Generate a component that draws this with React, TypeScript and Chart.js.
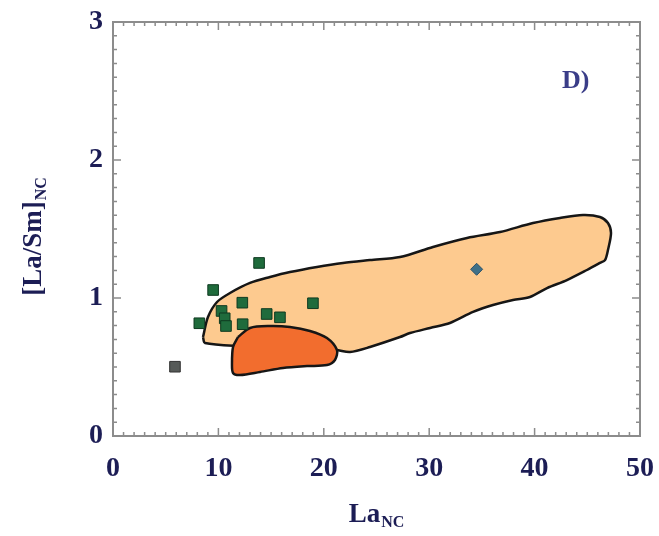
import { useEffect, useRef } from 'react';
import { Chart, registerables } from 'chart.js';

Chart.register(...registerables);

// Light-orange field outline (La_NC, [La/Sm]_NC)
const LIGHT_X = [8.54, 9.01, 9.87, 11.1, 13.0, 14.9, 16.79, 19.35, 21.82, 24.38, 27.23, 30.36, 33.59, 36.72, 39.85, 42.41, 44.59, 46.2, 46.96, 47.25, 46.96, 46.68, 46.2, 44.97, 43.07, 41.18, 39.56, 37.95, 36.05, 34.16, 31.97, 30.08, 28.18, 27.23, 24.38, 22.49, 21.16, 12.05, 8.73, 8.54];
const LIGHT_Y = [0.717, 0.862, 0.971, 1.036, 1.109, 1.152, 1.188, 1.225, 1.254, 1.275, 1.297, 1.37, 1.435, 1.478, 1.543, 1.58, 1.601, 1.587, 1.543, 1.471, 1.348, 1.275, 1.254, 1.203, 1.13, 1.072, 1.007, 0.986, 0.949, 0.899, 0.819, 0.783, 0.746, 0.717, 0.645, 0.609, 0.623, 0.652, 0.674, 0.717];

// Dark-orange field outline
const DARK_X = [11.86, 13.0, 14.9, 16.79, 18.69, 20.3, 21.25, 21.06, 20.3, 18.41, 16.13, 13.95, 12.05, 11.39, 11.29, 11.39, 11.86];
const DARK_Y = [0.717, 0.783, 0.797, 0.79, 0.761, 0.71, 0.623, 0.551, 0.514, 0.507, 0.493, 0.464, 0.442, 0.457, 0.529, 0.645, 0.717];

// Green squares
const GREEN_X = [13.86, 9.5, 12.27, 18.97, 10.3, 14.58, 15.84, 8.19, 10.6, 10.72, 12.3];
const GREEN_Y = [1.254, 1.058, 0.966, 0.962, 0.906, 0.884, 0.86, 0.817, 0.853, 0.797, 0.81];

// Grey square
const GREY_X = [5.88];
const GREY_Y = [0.502];

// Diamond
const DIAMOND_X = [34.5];
const DIAMOND_Y = [1.208];

const X_TICKS = [0, 10, 20, 30, 40, 50];
const Y_TICKS = [0, 1, 2, 3];
const PANEL_LABEL = 'D)';
const PANEL_POS = { x: 43.9, y: 2.57 };
const X_TITLE = { main: 'La', sub: 'NC' };
const Y_TITLE = { main: '[La/Sm]', sub: 'NC' };

const TEXT = '#1c1d55';
const FONT = '"Liberation Serif", "Times New Roman", serif';

const toPts = (xs: number[], ys: number[]) => xs.map((x, i) => ({ x, y: ys[i] }));

const decor = {
  id: 'decor',
  afterDraw(chart: any) {
    const ctx = chart.ctx as CanvasRenderingContext2D;
    const { left, right, top, bottom } = chart.chartArea;
    const xs = chart.scales.x;
    const ys = chart.scales.y;
    ctx.save();
    // frame
    ctx.strokeStyle = '#8c8c8c';
    ctx.lineWidth = 2;
    ctx.strokeRect(left, top, right - left, bottom - top);
    // ticks
    ctx.lineWidth = 1.5;
    ctx.beginPath();
    for (let v = 0; v <= 50; v += 1) {
      const p = xs.getPixelForValue(v);
      const len = v % 10 === 0 ? 8 : 4;
      ctx.moveTo(p, bottom);
      ctx.lineTo(p, bottom - len);
      ctx.moveTo(p, top);
      ctx.lineTo(p, top + len);
    }
    for (let i = 0; i <= 30; i++) {
      const p = ys.getPixelForValue(i / 10);
      const len = i % 10 === 0 ? 8 : 4;
      ctx.moveTo(left, p);
      ctx.lineTo(left + len, p);
      ctx.moveTo(right, p);
      ctx.lineTo(right - len, p);
    }
    ctx.stroke();

    // panel label
    ctx.fillStyle = '#3a3d88';
    ctx.font = `bold 26px ${FONT}`;
    ctx.textAlign = 'center';
    ctx.textBaseline = 'middle';
    ctx.fillText(PANEL_LABEL, xs.getPixelForValue(PANEL_POS.x), ys.getPixelForValue(PANEL_POS.y));

    // axis titles with subscripts
    const drawSub = (main: string, sub: string, cx: number, baseY: number) => {
      ctx.textAlign = 'left';
      ctx.textBaseline = 'alphabetic';
      ctx.font = `bold 27px ${FONT}`;
      const w1 = ctx.measureText(main).width;
      ctx.font = `bold 16px ${FONT}`;
      const w2 = ctx.measureText(sub).width;
      const x0 = cx - (w1 + w2) / 2;
      ctx.fillStyle = TEXT;
      ctx.font = `bold 27px ${FONT}`;
      ctx.fillText(main, x0, baseY);
      ctx.font = `bold 16px ${FONT}`;
      ctx.fillText(sub, x0 + w1 + 1, baseY + 5);
    };
    drawSub(X_TITLE.main, X_TITLE.sub, 376, 522);
    ctx.save();
    ctx.translate(41, 237);
    ctx.rotate(-Math.PI / 2);
    drawSub(Y_TITLE.main, Y_TITLE.sub, 0, 0);
    ctx.restore();
    ctx.restore();
  },
};

export default function App() {
  const ref = useRef<HTMLCanvasElement>(null);
  useEffect(() => {
    if (!ref.current) return;
    const chart = new Chart(ref.current, {
      type: 'scatter',
      data: {
        datasets: [
          {
            data: toPts(GREEN_X, GREEN_Y),
            pointStyle: 'rect',
            pointRadius: 7.5,
            backgroundColor: '#1f6b3c',
            borderColor: '#0f3a20',
            borderWidth: 1,
            order: 0,
          },
          {
            data: toPts(GREY_X, GREY_Y),
            pointStyle: 'rect',
            pointRadius: 7.5,
            backgroundColor: '#565a58',
            borderColor: '#333',
            borderWidth: 1,
            order: 0,
          },
          {
            data: toPts(DIAMOND_X, DIAMOND_Y),
            pointStyle: 'rectRot',
            pointRadius: 6,
            backgroundColor: '#3f7088',
            borderColor: '#2c5268',
            borderWidth: 1,
            order: 0,
          },
          {
            data: toPts(DARK_X, DARK_Y),
            showLine: true,
            fill: 'shape',
            tension: 0.3,
            pointRadius: 0,
            borderColor: '#161616',
            borderWidth: 2.5,
            backgroundColor: '#f26d2e',
            order: 1,
          } as any,
          {
            data: toPts(LIGHT_X, LIGHT_Y),
            showLine: true,
            fill: 'shape',
            tension: 0.3,
            pointRadius: 0,
            borderColor: '#161616',
            borderWidth: 2.5,
            backgroundColor: '#fdca8f',
            order: 2,
          } as any,
        ],
      },
      options: {
        animation: false,
        responsive: false,
        devicePixelRatio: 1,
        layout: { padding: { top: 22, right: 19, left: 0, bottom: 0 } },
        plugins: { legend: { display: false }, tooltip: { enabled: false } },
        scales: {
          x: {
            type: 'linear',
            min: 0,
            max: 50,
            afterBuildTicks: (s: any) => { s.ticks = X_TICKS.map((v) => ({ value: v })); },
            afterFit: (s: any) => { s.height = 100; s.paddingLeft = 0; s.paddingRight = 0; },
            grid: { display: false, drawTicks: false },
            border: { display: false },
            ticks: { color: TEXT, padding: 16, font: { family: FONT, size: 28, weight: 'bold' } },
          },
          y: {
            type: 'linear',
            min: 0,
            max: 3,
            afterBuildTicks: (s: any) => { s.ticks = Y_TICKS.map((v) => ({ value: v })); },
            afterFit: (s: any) => { s.width = 113; s.paddingTop = 0; s.paddingBottom = 0; },
            grid: { display: false, drawTicks: false },
            border: { display: false },
            ticks: { color: TEXT, padding: 10, font: { family: FONT, size: 28, weight: 'bold' } },
          },
        },
      },
      plugins: [decor],
    });
    return () => chart.destroy();
  }, []);
  return (
    <div style={{ position: 'absolute', left: 0, top: 0, width: 659, height: 536, background: '#fff' }}>
      <canvas ref={ref} width={659} height={536} style={{ width: 659, height: 536, display: 'block' }} />
    </div>
  );
}
